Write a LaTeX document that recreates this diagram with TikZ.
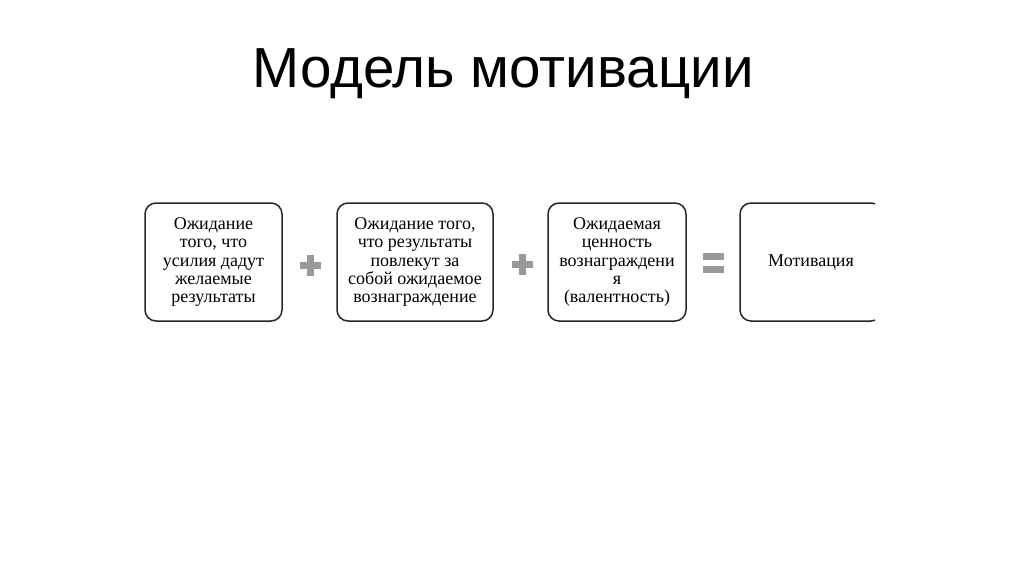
\documentclass[tikz,border=0pt]{standalone}
\usepackage{fontspec}
\setmainfont{Liberation Serif}
\newfontfamily\titlefont{Liberation Sans}
\begin{document}
\begin{tikzpicture}[x=1pt, y=-1pt,
    box/.style={draw=black!85, line width=1.5pt, rounded corners=11pt,
      minimum height=118pt, align=center, inner sep=1pt,
      font=\fontsize{18}{18.3}\selectfont},
    op/.style={draw=black!40, line width=7pt}]
    \useasboundingbox (0,0) rectangle (1024,576);

    % Title
    \node[font=\titlefont\fontsize{56.5}{64}\selectfont] (title) at (503,74) {Модель мотивации};

    % Boxes of the model
    \node[box, minimum width=137pt] (exp) at (213.5,262)
      {Ожидание\\того, что\\усилия дадут\\желаемые\\результаты};
    \node[box, minimum width=156pt] (inst) at (415,262)
      {Ожидание того,\\что результаты\\повлекут за\\собой ожидаемое\\вознаграждение};
    \node[box, minimum width=138pt] (val) at (617,262)
      {Ожидаемая\\ценность\\вознаграждени\\я\\(валентность)};
    \begin{scope}
      \clip (730,190) rectangle (875,335);
      \node[box, minimum width=142pt] (mot) at (811,262) {Мотивация};
    \end{scope}

    % Operators between boxes
    \coordinate (plusA) at (310,265);
    \coordinate (plusB) at (522,264);
    \coordinate (eq) at (713,263);
    \draw[op] ([xshift=-10.5pt]plusA) -- ([xshift=10.5pt]plusA);
    \draw[op] ([yshift=-10.5pt]plusA) -- ([yshift=10.5pt]plusA);
    \draw[op] ([xshift=-10.5pt]plusB) -- ([xshift=10.5pt]plusB);
    \draw[op] ([yshift=-10.5pt]plusB) -- ([yshift=10.5pt]plusB);
    \draw[op] ([xshift=-10.5pt,yshift=-6.5pt]eq) -- ([xshift=10.5pt,yshift=-6.5pt]eq);
    \draw[op] ([xshift=-10.5pt,yshift=6.5pt]eq) -- ([xshift=10.5pt,yshift=6.5pt]eq);
\end{tikzpicture}
\end{document}
